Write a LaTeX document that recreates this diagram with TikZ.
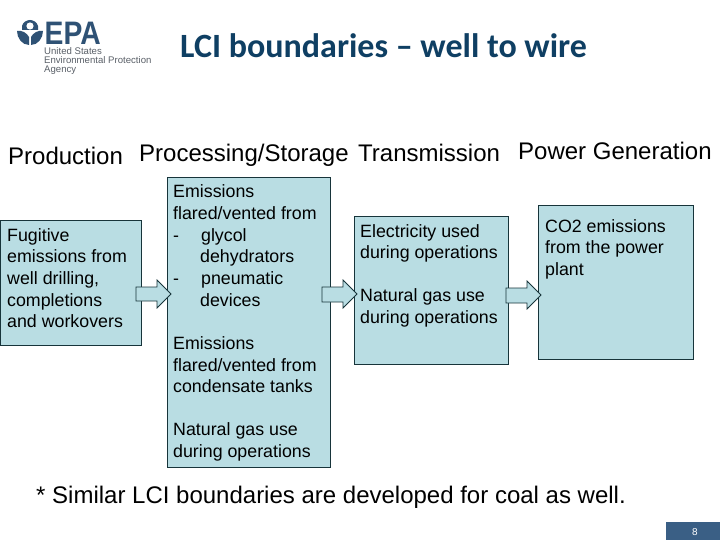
\documentclass[tikz,border=0pt]{standalone}
\usepackage{fontspec}
\setmainfont{Liberation Sans}
\newfontfamily\titlefont{Carlito}
\definecolor{boxfill}{HTML}{B9DDE3}
\definecolor{boxline}{HTML}{17343A}
\definecolor{epablue}{HTML}{2F5275}
\definecolor{titleblue}{HTML}{0F3F63}
\definecolor{epagray}{HTML}{5A6068}
\definecolor{barblue}{HTML}{3A5F85}
\newcommand{\fsz}[2]{\fontsize{#1}{#2}\selectfont}
\tikzset{
  x=1pt,y=-1pt,
  stagebox/.style={draw=boxline,fill=boxfill,line width=0.9pt},
  blockarrow/.style={draw=boxline,fill=boxfill,line width=0.8pt,line join=miter},
  bodytext/.style={inner sep=0pt,anchor=north west,align=left,text=black,font=\fsz{17.8}{21.7}},
  headtext/.style={inner sep=0pt,anchor=base west,text=black,font=\fsz{24}{28}},
  logosmall/.style={inner sep=0pt,anchor=base west,text=epagray,font=\fsz{9.6}{10}},
}
\begin{document}
\begin{tikzpicture}
\useasboundingbox (0,0) rectangle (720,540);
\fill[white] (0,0) rectangle (720,540);
% logo
\fill[epablue] (17,31) .. controls (22,30) and (27,33) .. (29,37) -- (29,45) .. controls (22,45) and (17,38) .. (17,31) -- cycle;
\fill[epablue] (43,31) .. controls (38,30) and (33,33) .. (31,37) -- (31,45) .. controls (38,45) and (43,38) .. (43,31) -- cycle;
\fill[epablue] (22,26) .. controls (23,22) and (27,20) .. (30,20) .. controls (33,20) and (37,22) .. (38,26) -- (38,30) -- (22,30) -- cycle;
\fill[white] (30,26) circle[radius=3.6];
\node[inner sep=0pt,anchor=base west,text=epablue,font=\fsz{32.5}{34}\bfseries,xscale=0.87] (epa) at (44.5,45) {EPA};
\node[logosmall] (l1) at (44,55) {United States};
\node[logosmall] (l2) at (44,64) {Environmental Protection};
\node[logosmall] (l3) at (44,73) {Agency};
% title
\node[inner sep=0pt,anchor=base west,text=titleblue,font=\titlefont\fsz{34}{38}\bfseries] (title) at (180,58) {LCI boundaries – well to wire};
% headings
\node[headtext] (h1) at (8,165) {Production};
\node[headtext] (h2) at (139,162) {Processing/Storage};
\node[headtext] (h3) at (358,162) {Transmission};
\node[headtext] (h4) at (518,160) {Power Generation};
% boxes
\path[stagebox] (0,220) rectangle (141,345);
\path[stagebox] (167,177) rectangle (330,467);
\path[stagebox] (354,216) rectangle (508,364);
\path[stagebox] (538,205) rectangle (693,359);
% box texts
\node[bodytext] (t1) at (7,228) {Fugitive\\emissions from\\well drilling,\\completions\\and workovers};
\node[bodytext] (t2) at (173,184.5) {Emissions\\flared/vented from\\-\hspace{22pt}glycol\\\hspace{27pt}dehydrators\\-\hspace{22pt}pneumatic\\\hspace{27pt}devices\\[21.5pt]Emissions\\flared/vented from\\condensate tanks\\[21.5pt]Natural gas use\\during operations};
\node[bodytext] (t3) at (360,224) {Electricity used\\during operations\\[21.5pt]Natural gas use\\during operations};
\node[bodytext] (t4) at (545,219) {CO2 emissions\\from the power\\plant};
% block arrows
\draw[blockarrow] (136,287) -- (157,287) -- (157,280) -- (171,294) -- (157,308) -- (157,301) -- (136,301) -- cycle;
\draw[blockarrow] (322,287) -- (343,287) -- (343,280) -- (357,294) -- (343,308) -- (343,302) -- (322,302) -- cycle;
\draw[blockarrow] (506,288) -- (527,288) -- (527,281) -- (541,295) -- (527,309) -- (527,303) -- (506,303) -- cycle;
% footnote
\node[inner sep=0pt,anchor=base west,text=black,font=\fsz{24}{28}] (foot) at (36,503) {* Similar LCI boundaries are developed for coal as well.};
% page bar
\fill[barblue] (666,522) rectangle (720,540);
\node[inner sep=0pt,text=white,font=\fsz{10}{12}] (pg) at (695,532) {8};
\end{tikzpicture}
\end{document}
